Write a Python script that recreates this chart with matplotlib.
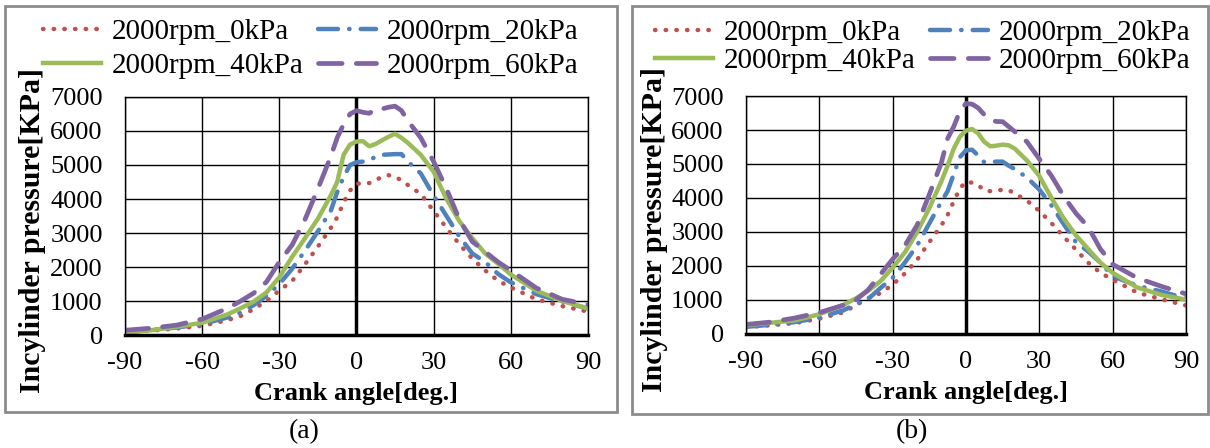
import matplotlib
matplotlib.use("Agg")
import matplotlib.pyplot as plt
from matplotlib.patches import Rectangle

plt.rcParams['font.family'] = ['Liberation Serif', 'DejaVu Serif']
plt.rcParams['axes.unicode_minus'] = False

# crank angle grid (deg.)
angle = [-90, -80, -70, -60, -50, -45, -40, -35, -30, -25, -20, -15, -10, -7.5, -5, -2.5,
         0, 2.5, 5, 7.5, 10, 12.5, 15, 17.5, 20, 25, 30, 35, 40, 45, 50, 55, 60, 70, 80, 90]

labels = ['2000rpm_0kPa', '2000rpm_20kPa', '2000rpm_40kPa', '2000rpm_60kPa']

# panel (a)
a_0kpa = [80, 130, 190, 270, 440, 560, 760, 1000, 1310, 1590, 2080, 2600, 3150, 3460, 3900, 4250,
          4450, 4460, 4470, 4560, 4650, 4700, 4650, 4550, 4410, 4150, 3650, 3150, 2670, 2250, 1900, 1600, 1400, 1050, 850, 690]
a_20kpa = [90, 150, 220, 320, 520, 660, 880, 1150, 1500, 1950, 2480, 3050, 3650, 4200, 4650, 5000,
           5080, 5100, 5150, 5240, 5300, 5310, 5320, 5320, 5100, 4750, 4100, 3500, 2900, 2400, 2150, 1800, 1550, 1200, 980, 780]
a_40kpa = [70, 140, 240, 360, 610, 790, 980, 1250, 1700, 2300, 2850, 3420, 4100, 4500, 5300, 5600,
           5690, 5700, 5550, 5620, 5730, 5830, 5920, 5800, 5650, 5300, 4800, 4000, 3350, 2850, 2400, 2100, 1780, 1300, 1000, 780]
a_60kpa = [140, 200, 290, 470, 790, 1000, 1230, 1560, 2150, 2650, 3400, 4300, 5250, 5800, 6200, 6500,
           6600, 6550, 6520, 6650, 6650, 6700, 6730, 6600, 6300, 5800, 5100, 4300, 3400, 2750, 2450, 2150, 1900, 1380, 1050, 900]

# panel (b)
b_0kpa = [200, 255, 320, 450, 640, 850, 1050, 1200, 1450, 1780, 2180, 2700, 3200, 3500, 3900, 4280,
          4480, 4450, 4380, 4220, 4200, 4230, 4235, 4230, 4130, 3920, 3620, 3260, 2860, 2480, 2100, 1800, 1600, 1220, 1020, 840]
b_20kpa = [210, 270, 350, 480, 700, 880, 1030, 1350, 1650, 2100, 2600, 3250, 3900, 4200, 4700, 5200,
           5400, 5420, 5250, 5050, 5060, 5070, 5070, 4950, 4850, 4600, 4250, 3780, 3230, 2700, 2430, 2100, 1700, 1420, 1250, 1040]
b_40kpa = [260, 330, 400, 580, 860, 1050, 1270, 1550, 1950, 2400, 2990, 3700, 4500, 4950, 5450, 5800,
           5980, 6030, 5900, 5650, 5520, 5540, 5570, 5550, 5450, 5100, 4650, 4000, 3400, 2900, 2500, 2100, 1800, 1370, 1150, 1010]
b_60kpa = [280, 350, 470, 630, 850, 1000, 1300, 1750, 2200, 2600, 3200, 4100, 5050, 5750, 6100, 6550,
           6780, 6760, 6650, 6450, 6290, 6250, 6245, 6100, 5950, 5650, 5150, 4650, 4050, 3550, 3150, 2500, 2050, 1650, 1400, 1180]

xticks = [-90, -60, -30, 0, 30, 60, 90]
yticks = [0, 1000, 2000, 3000, 4000, 5000, 6000, 7000]

colors = ['#C0504D', '#4F81BD', '#9BBB59', '#8064A2']
styles = [dict(linestyle=(0, (0.1, 2.3)), dash_capstyle='round', linewidth=3.2),
          dict(linestyle=(0, (4.5, 2.5, 0.1, 2.5)), dash_capstyle='round', linewidth=3.2),
          dict(linestyle='-', linewidth=3.2),
          dict(linestyle=(0, (5, 3)), dash_capstyle='round', linewidth=3.4)]


def draw_panel(fig, rect, series, tag, box, leg_xy, leg_space, ylab_x):
    fig.patches.append(Rectangle(box[:2], box[2], box[3], transform=fig.transFigure,
                                 fill=False, edgecolor='#8c8c8c', linewidth=2))
    ax = fig.add_axes(rect)
    lines = []
    for vals, lab, c, st in zip(series, labels, colors, styles):
        lines += ax.plot(angle, vals, color=c, label=lab, **st)
    ax.set_xlim(-90, 90)
    ax.set_ylim(0, 7000)
    ax.set_xticks(xticks)
    ax.set_yticks(yticks)
    ax.grid(True, color='black', linewidth=1)
    ax.set_axisbelow(True)
    ax.axvline(0, color='black', linewidth=2.5, zorder=1.5)
    for s in ['top', 'right', 'left']:
        ax.spines[s].set_linewidth(1)
    ax.spines['bottom'].set_linewidth(2.5)
    ax.tick_params(length=0, labelsize=19)
    ax.tick_params(axis='y', pad=16)
    ax.tick_params(axis='x', pad=12)
    ax.set_xlabel('Crank angle[deg.]', fontsize=19, fontweight='bold')
    ax.xaxis.label.set_va('center')
    ax.xaxis.set_label_coords(0.5, -0.245)
    ax.set_ylabel('Incylinder pressure[KPa]', fontsize=21.5, fontweight='bold')
    ax.yaxis.label.set_va('center')
    ax.yaxis.set_label_coords(ylab_x, 0.44)
    # row-wise legend order: 0, 20 / 40, 60
    order = [0, 2, 1, 3]
    fig.legend([lines[i] for i in order], [labels[i] for i in order],
               loc='upper left', bbox_to_anchor=leg_xy, ncol=2, frameon=False,
               fontsize=21, handlelength=2.0, columnspacing=0.5, handletextpad=0.35,
               labelspacing=leg_space, borderpad=0, borderaxespad=0)
    fig.text(box[0] + box[2] / 2 - 0.006, 0.036, tag, fontsize=20, ha='center', va='center')
    return ax


fig = plt.figure(figsize=(12.1, 4.48), dpi=100)
draw_panel(fig, [0.1033, 0.2522, 0.3826, 0.5313], [a_0kpa, a_20kpa, a_40kpa, a_60kpa], '(a)',
           [0.004, 0.08, 0.506, 0.907], (43 / 1210, 1 - 19 / 448), 0.25, -0.199)
draw_panel(fig, [0.6165, 0.2545, 0.3636, 0.5312], [b_0kpa, b_20kpa, b_40kpa, b_60kpa], '(b)',
           [0.522, 0.077, 0.476, 0.910], (655 / 1210, 1 - 20 / 448), 0.05, -0.207)

fig.savefig('out.png', dpi=100)
